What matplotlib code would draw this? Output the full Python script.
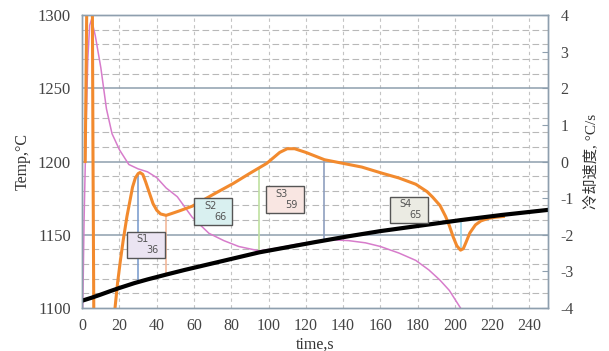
import matplotlib
matplotlib.use("Agg")
import matplotlib.pyplot as plt
from matplotlib.patches import Rectangle
import numpy as np

plt.rcParams['font.family'] = ['Liberation Serif', 'Noto Sans CJK SC', 'DejaVu Sans']

# ---- data ----
# black thick curve (left axis)
black_t = [0, 5, 10, 15, 20, 28, 35, 45, 55, 70, 85, 95, 110, 125, 143, 160, 180, 203, 225, 250]
black_v = [1105, 1107, 1109.2, 1111.5, 1113.7, 1117, 1119.5, 1122.8, 1126, 1130.5, 1135,
           1138, 1141.5, 1145, 1149, 1152.5, 1156, 1160, 1163.5, 1167]

# pink temperature curve (left axis)
pink_t = [0.3, 1, 2, 3, 4, 5, 7, 10, 13, 16, 20, 25, 30, 35, 40, 45, 51, 59, 68, 76, 84, 95,
          105, 115, 125, 135, 143, 152, 160, 170, 179, 186, 192, 197, 200, 203]
pink_v = [1100, 1160, 1220, 1270, 1293, 1297, 1286, 1264, 1236, 1219, 1208, 1198, 1195, 1193,
          1189, 1182, 1176, 1162, 1151, 1146, 1142, 1139, 1141, 1143.5, 1145.5, 1146.5, 1146,
          1144.5, 1142, 1137.5, 1132.5, 1126, 1119, 1112, 1106, 1100]

# orange cooling-rate curve (right axis)
orange_t = [1.6, 2.2, 2.8, 4.5, 5.3, 5.8, 6.4, 16.5, 17.6, 19, 20.5, 22, 24, 25.7, 27, 28.5, 30,
            31, 32.5, 34, 36, 38, 40, 42, 45, 48, 52, 59, 65, 72, 81, 90, 99, 106, 110, 114,
            120, 130, 140, 150, 161, 170, 179, 185, 188, 192, 195, 197, 199, 201, 203, 204.5,
            206, 208, 211, 214, 218, 222, 226]
orange_v = [0, 3, 6, 6, 6, 0, -6, -6, -4, -3.3, -2.7, -2.15, -1.5, -1.05, -0.7, -0.45, -0.33,
            -0.3, -0.35, -0.55, -0.85, -1.15, -1.33, -1.43, -1.47, -1.42, -1.35, -1.22, -1.05,
            -0.85, -0.6, -0.32, -0.05, 0.25, 0.35, 0.35, 0.25, 0.05, -0.05, -0.15, -0.32,
            -0.45, -0.62, -0.82, -0.97, -1.2, -1.5, -1.75, -2.05, -2.3, -2.42, -2.38, -2.2,
            -1.95, -1.73, -1.62, -1.55, -1.52, -1.5]

# stage markers
marker_t = [30, 45, 95, 130, 203]
marker_colors = ['#7f9fcf', '#f3b99a', '#bfe0a0', '#8f9fbf', '#9fd8ec']

stage_names = ['S1', 'S2', 'S3', 'S4']
stage_values = [36, 66, 59, 65]
box_pos = [(24, 1134), (60, 1157), (98.5, 1165), (165, 1158)]  # lower-left corners
box_colors = ['#ebe4f2', '#d9f0f0', '#f9e6e2', '#ebebe3']

xticks = list(range(0, 241, 20))
yticks_left = [1100, 1150, 1200, 1250, 1300]
yticks_right = [-4, -3, -2, -1, 0, 1, 2, 3, 4]

# ---- figure ----
fig = plt.figure(figsize=(6.09, 3.51), dpi=100)
ax = fig.add_axes([0.135, 0.1225, 0.765, 0.8345])
ax.set_xlim(0, 250)
ax.set_ylim(1100, 1300)

# grid
for x in xticks[1:]:
    ax.axvline(x, color='#c4c4c4', lw=0.8, ls=(0, (3, 3)), zorder=0)
for y in range(1110, 1300, 10):
    if y % 50 == 0:
        ax.axhline(y, color='#8e9fae', lw=1.1, zorder=0)
    else:
        ax.axhline(y, color='#b8b8b8', lw=0.8, ls=(0, (6, 3)), zorder=0)

ax2 = ax.twinx()
ax2.set_ylim(-4, 4)

def r2l(v):
    # convert right-axis value to left-axis coordinates via the two axes' limits
    (a0, a1), (b0, b1) = ax.get_ylim(), ax2.get_ylim()
    return a0 + (np.asarray(v) - b0) * (a1 - a0) / (b1 - b0)

# marker vertical segments between curves
for mt, mc in zip(marker_t, marker_colors):
    yo = r2l(np.interp(mt, orange_t, orange_v))
    yb = np.interp(mt, black_t, black_v)
    ax.plot([mt, mt], [yb, yo], color=mc, lw=1.2, zorder=1)

ax.plot(pink_t, pink_v, color='#d77ccb', lw=1.1, zorder=2)
ax.plot(black_t, black_v, color='black', lw=3, zorder=4)
ax.plot(orange_t, r2l(orange_v), color='#f28a2e', lw=2.2, zorder=3, clip_on=True)

# stage boxes
for name, val, (bx, by), bc in zip(stage_names, stage_values, box_pos, box_colors):
    w, h = 20.5, 18
    ax.add_patch(Rectangle((bx, by), w, h, facecolor=bc, edgecolor='#555555', lw=1.0, zorder=5))
    ax.text(bx + w * 0.42, by + h * 0.72, name, fontsize=7, color='#555555',
            family='DejaVu Sans', ha='center', va='center', zorder=6)
    ax.text(bx + w * 0.68, by + h * 0.30, str(val), fontsize=7, color='#555555',
            family='DejaVu Sans', ha='center', va='center', zorder=6)

ax.set_xticks(xticks)
ax.set_yticks(yticks_left)
ax2.set_yticks(yticks_right)
ax.set_xticklabels([str(x) for x in xticks], fontsize=11.5, color='#444444')
ax.set_yticklabels([str(y) for y in yticks_left], fontsize=12, color='#444444')
ax2.set_yticklabels([str(y) for y in yticks_right], fontsize=11.5, color='#444444')
ax.tick_params(axis='x', length=0, pad=7)
ax.tick_params(axis='y', length=0, pad=8)
ax2.tick_params(axis='y', length=4, color='#8e9fae', direction='in', pad=9)

for a in (ax, ax2):
    for s in a.spines.values():
        s.set_color('#8e9fae')
        s.set_linewidth(1.0)

ax.set_xlabel('time,s', fontsize=11.5, color='#333333', labelpad=2)
ax.set_ylabel('Temp,°C', fontsize=11.5, color='#333333', labelpad=5)
ax2.set_ylabel('冷却速度, °C/s', fontsize=11, color='#333333', labelpad=7)

fig.savefig('out.png', dpi=100)
